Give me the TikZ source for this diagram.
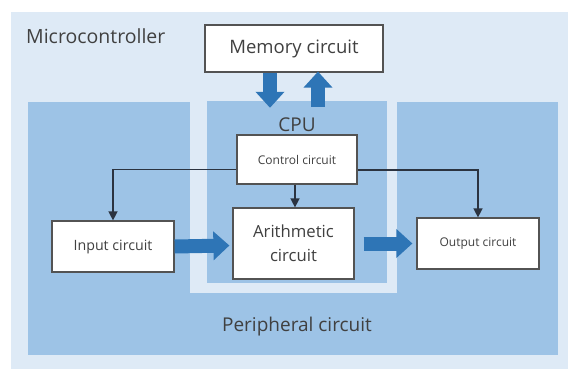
\documentclass[tikz,border=0pt]{standalone}
\usepackage{fontspec}
\setmainfont{Open Sans}
\usetikzlibrary{arrows.meta,calc}
\definecolor{outerbg}{HTML}{DEEAF6}
\definecolor{periph}{HTML}{9DC3E6}
\definecolor{fatblue}{HTML}{2E75B6}
\definecolor{txt}{HTML}{404040}
\definecolor{linec}{HTML}{2B3340}
\begin{document}
\begin{tikzpicture}[x=1pt,y=-1pt,
  box/.style={draw=txt!90,line width=1.2pt,fill=white,inner sep=0pt,text=txt,align=center},
  fat/.style={draw=fatblue,line width=14pt,-{Triangle[width=28pt,length=16pt]}},
  conn/.style={draw=linec,line width=1.4pt,-{Triangle[width=9pt,length=9pt]}},
  lbl/.style={text=txt,inner sep=0pt}]
\useasboundingbox (0,0) rectangle (568,369);
\fill[white] (0,0) rectangle (568,369);
\fill[outerbg] (11,12) rectangle (568,369);
% peripheral region
\node[fill=periph,minimum width=530pt,minimum height=253pt,inner sep=0pt] (periph) at (293,228.5) {};
\fill[outerbg] (190,96) rectangle (397,293);
\node[fill=periph,minimum width=180pt,minimum height=182pt,inner sep=0pt] (cpu) at (297,192) {};
% labels
\node[lbl,anchor=west,font=\fontsize{19.5}{22}\selectfont] (mc) at (26,36) {Microcontroller};
\node[lbl,font=\fontsize{19}{22}\selectfont] (cpul) at (297,125) {CPU};
\node[lbl,font=\fontsize{19}{22}\selectfont] (perl) at (297,327) {Peripheral circuit};
% boxes
\node[box,minimum width=178pt,minimum height=47pt,font=\fontsize{18.5}{22}\selectfont] (memory) at (294,48.5) {Memory circuit};
\node[box,minimum width=120pt,minimum height=49pt,font=\fontsize{12}{14}\selectfont] (control) at (297,159.5) {Control circuit};
\node[box,minimum width=121pt,minimum height=71pt,font=\fontsize{16.7}{24}\selectfont] (arith) at (293.5,243.5) {Arithmetic\\circuit};
\node[box,minimum width=122pt,minimum height=51pt,font=\fontsize{14.2}{16}\selectfont] (input) at (113,246.5) {Input circuit};
\node[box,minimum width=122pt,minimum height=51pt,font=\fontsize{12}{14}\selectfont] (output) at (478,243.5) {Output circuit};
% fat arrows
\draw[fat] ($(memory.south)+(-24,0)$) -- ($(cpu.north)+(-27,7)$);
\draw[fat] ($(cpu.north)+(21,6)$) -- ($(memory.south)+(24,-1)$);
\draw[fat] (input.east) -- ($(arith.west)+(-3,2)$);
\draw[fat] ($(arith.east)+(9,0)$) -- ($(output.west)+(-4,0)$);
% control connectors
\draw[conn] ($(control.west)+(0,10)$) -| (input.north);
\draw[conn] ($(control.east)+(0,10.5)$) -| (output.north);
\draw[conn] (control.south -| 295,0) -- (arith.north -| 295,0);
\end{tikzpicture}
\end{document}
